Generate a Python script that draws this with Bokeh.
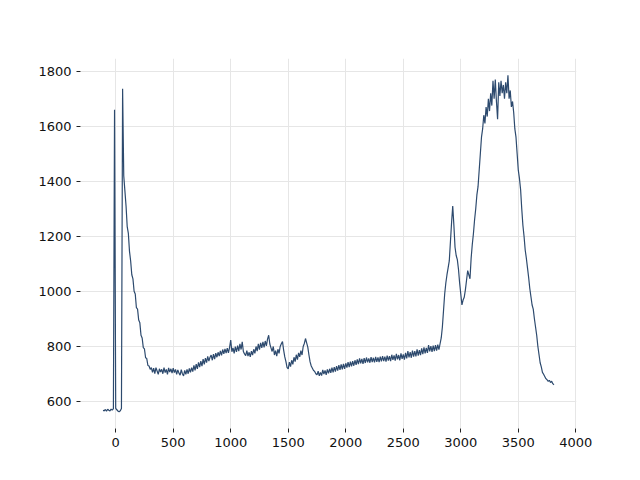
import numpy as np
from bokeh.plotting import figure
from bokeh.models import FixedTicker, Range1d
from bokeh.embed import file_html
from bokeh.resources import INLINE

x_start, x_step = -110, 10
intensity = [
    567, 565, 570, 564, 571, 567, 565, 571, 568, 573,
    1660, 574, 569, 564, 562, 565, 574, 1736, 1420, 1365,
    1310, 1235, 1210, 1145, 1110, 1060, 1045, 1000, 990, 940,
    935, 895, 885, 840, 830, 795, 790, 758, 755, 730,
    728, 716, 722, 705, 720, 700, 722, 710, 698, 718,
    706, 716, 700, 722, 704, 716, 698, 721, 706, 718,
    702, 720, 704, 716, 698, 714, 702, 695, 715, 700,
    692, 712, 698, 716, 700, 719, 705, 722, 708, 730,
    712, 735, 718, 741, 724, 746, 728, 753, 734, 757,
    740, 763, 746, 760, 768, 749, 771, 753, 775, 760,
    778, 764, 783, 767, 788, 772, 790, 775, 793, 776,
    796, 822, 780, 794, 774, 799, 779, 802, 782, 809,
    788, 816, 781, 772, 766, 784, 764, 778, 761, 782,
    768, 789, 774, 799, 782, 809, 788, 812, 794, 816,
    796, 819, 801, 826, 840, 808, 794, 781, 799, 768,
    784, 764, 789, 774, 799, 809, 817, 786, 761, 744,
    722, 718, 742, 726, 749, 734, 760, 744, 769, 751,
    776, 761, 784, 768, 799, 810, 828, 812, 797, 768,
    743, 728, 720, 712, 708, 700, 696, 709, 692, 705,
    693, 714, 699, 712, 696, 716, 701, 718, 703, 722,
    705, 724, 708, 728, 711, 731, 714, 734, 716, 736,
    718, 738, 722, 742, 724, 744, 727, 746, 729, 749,
    732, 752, 735, 756, 738, 754, 736, 757, 739, 759,
    741, 756, 740, 760, 742, 758, 741, 761, 743, 759,
    742, 762, 745, 764, 746, 762, 744, 766, 748, 764,
    746, 769, 750, 767, 748, 772, 752, 768, 749, 774,
    754, 770, 751, 776, 756, 782, 759, 779, 758, 784,
    762, 782, 763, 789, 766, 786, 768, 792, 771, 796,
    774, 794, 776, 804, 781, 800, 779, 802, 782, 804,
    784, 806, 788, 809, 830, 870, 930, 990, 1030, 1060,
    1085, 1110, 1180, 1250, 1310, 1240, 1160, 1130, 1115, 1080,
    1030, 990, 950, 968, 978, 1005, 1040, 1075, 1060, 1045,
    1120, 1170, 1210, 1260, 1300, 1350, 1380, 1440, 1500, 1560,
    1590, 1640, 1610, 1670, 1635, 1700, 1655, 1720, 1675, 1765,
    1700, 1770, 1690, 1625, 1760, 1710, 1765, 1720, 1750, 1700,
    1760, 1720, 1785, 1700, 1730, 1670, 1690, 1650, 1590, 1560,
    1500, 1440, 1410, 1370, 1300, 1240, 1200, 1150, 1120, 1085,
    1050, 1010, 980, 950, 935, 900, 870, 840, 800, 770,
    740, 725, 705, 698, 690, 682, 678, 672, 676, 668,
    673, 664, 660,
]
wavenumber = [x_start + i * x_step for i in range(len(intensity))]

x_ticks = [0, 500, 1000, 1500, 2000, 2500, 3000, 3500, 4000]
y_ticks = [600, 800, 1000, 1200, 1400, 1600, 1800]

xmin, xmax = min(wavenumber), max(wavenumber)
ymin, ymax = min(intensity), max(intensity)
xpad = 0.05 * (xmax - xmin)
ypad = 0.05 * (ymax - ymin)

p = figure(
    output_backend="svg", toolbar_location=None,
    frame_width=496, frame_height=370,
    min_border_left=80, min_border_right=56,
    min_border_top=58, min_border_bottom=44,
    x_range=Range1d(xmin - xpad, xmax + xpad),
    y_range=Range1d(ymin - ypad, ymax + ypad),
    background_fill_color="white", border_fill_color="white",
)
p.outline_line_color = None

p.line(wavenumber, intensity, line_color="#2d4a6e", line_width=1.2)

p.xaxis.ticker = FixedTicker(ticks=x_ticks)
p.yaxis.ticker = FixedTicker(ticks=y_ticks)
for ax in (p.xaxis, p.yaxis):
    ax.axis_line_color = None
    ax.major_tick_in = 0
    ax.major_tick_out = 4
    ax.major_tick_line_color = "#222222"
    ax.minor_tick_line_color = None
    ax.major_label_text_font = "DejaVu Sans"
    ax.major_label_text_font_size = "13px"
    ax.major_label_text_color = "#111111"
    ax.major_label_standoff = 5

p.grid.grid_line_color = "#e6e6e6"
p.grid.grid_line_width = 1

open("out.html", "w").write(file_html(p, INLINE))
